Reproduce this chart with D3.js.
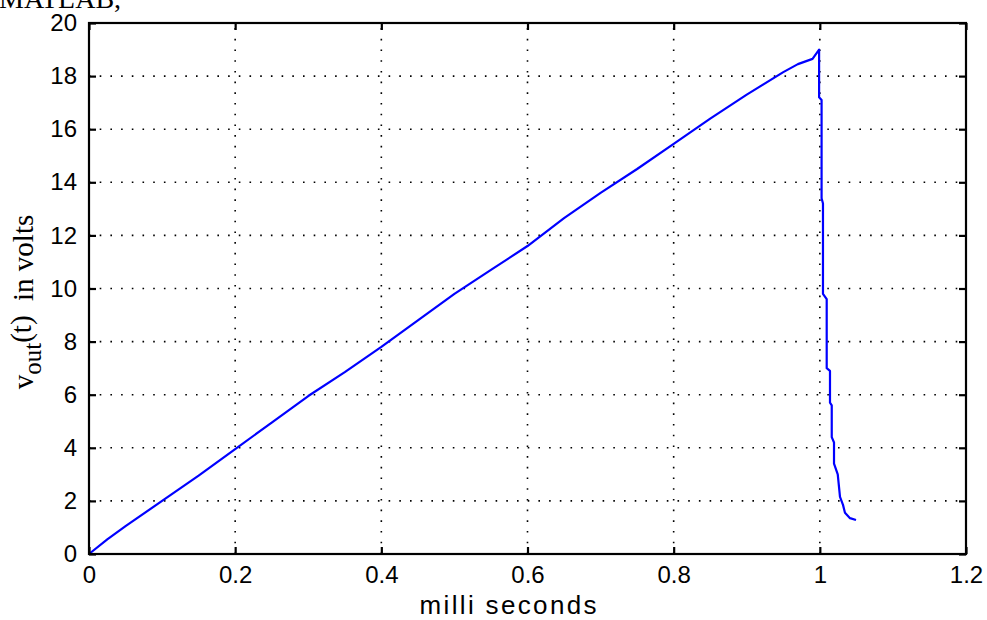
<!DOCTYPE html>
<html>
<head>
<meta charset="utf-8">
<script src="https://cdn.jsdelivr.net/npm/d3@7"></script>
<style>
  body { margin: 0; background: #fff; }
  svg { display: block; }
  .tick text { font-family: "Liberation Sans Narrow", "Liberation Sans", Arial, sans-serif; }
</style>
</head>
<body>
<div id="chart"></div>
<script>
// time in ms, output voltage in volts
var timeMs = [0, 0.025, 0.05, 0.1, 0.15, 0.2, 0.25, 0.3, 0.35, 0.4, 0.45, 0.5, 0.55, 0.6, 0.65, 0.7, 0.75, 0.8, 0.85, 0.9, 0.95, 0.97, 0.99, 0.999,
              0.999, 1.0024, 1.0024, 1.0043, 1.0043, 1.0094, 1.0094, 1.0139, 1.0139, 1.0163, 1.0163, 1.0194, 1.0194, 1.0245, 1.0276, 1.0317, 1.0344, 1.0413, 1.0495];
var vOut   = [0, 0.55, 1.05, 2.0, 2.95, 3.95, 4.95, 5.95, 6.85, 7.8, 8.8, 9.8, 10.7, 11.6, 12.65, 13.6, 14.5, 15.45, 16.4, 17.3, 18.15, 18.45, 18.65, 19.0,
              17.2, 17.1, 13.4, 13.2, 9.8, 9.6, 7.0, 6.9, 5.7, 5.6, 4.4, 4.2, 3.4, 3.0, 2.15, 1.85, 1.55, 1.35, 1.28];
var xTicks = [0, 0.2, 0.4, 0.6, 0.8, 1, 1.2];
var yTicks = [0, 2, 4, 6, 8, 10, 12, 14, 16, 18, 20];

var width = 987, height = 620;
var padL = 89, padR = 966, padT = 23, padB = 554;

var svg = d3.select("#chart").append("svg")
    .attr("width", width)
    .attr("height", height);

var x = d3.scaleLinear().domain([0, 1.2]).range([padL, padR]);
var y = d3.scaleLinear().domain([0, 20]).range([padB, padT]);

// text cut off at the top of the picture
svg.append("text")
    .attr("x", -1)
    .attr("y", 8)
    .attr("font-family", "Liberation Serif, Times New Roman, serif")
    .attr("font-size", 28)
    .attr("fill", "#000")
    .text("MATLAB,");

// dotted grid
var grid = svg.append("g").attr("class", "grid");
grid.selectAll("line.gx")
    .data(xTicks)
  .enter().append("line")
    .attr("class", "gx")
    .attr("x1", function(d) { return x(d); })
    .attr("x2", function(d) { return x(d); })
    .attr("y1", padB)
    .attr("y2", padT);
grid.selectAll("line.gy")
    .data(yTicks)
  .enter().append("line")
    .attr("class", "gy")
    .attr("x1", padL)
    .attr("x2", padR)
    .attr("y1", function(d) { return y(d); })
    .attr("y2", function(d) { return y(d); });
grid.selectAll("line")
    .attr("stroke", "#000")
    .attr("stroke-width", 1.6)
    .attr("stroke-dasharray", "1.6,9.1");

// curve
var line = d3.line()
    .x(function(d, i) { return x(timeMs[i]); })
    .y(function(d) { return y(d); });

svg.append("path")
    .datum(vOut)
    .attr("d", line)
    .attr("fill", "none")
    .attr("stroke", "#0000ff")
    .attr("stroke-width", 2.2)
    .attr("stroke-linejoin", "round");

// axes, ticks pointing inward on all four sides
function fmt(d) { return d3.format("")(+d.toFixed(1)); }

var xAxis = svg.append("g")
    .attr("transform", "translate(0," + padB + ")")
    .call(d3.axisBottom(x).tickValues(xTicks).tickSizeInner(-7).tickSizeOuter(0).tickPadding(10).tickFormat(fmt));
svg.append("g")
    .attr("transform", "translate(0," + padT + ")")
    .call(d3.axisTop(x).tickValues(xTicks).tickSizeInner(-7).tickSizeOuter(0).tickFormat(""));
var yAxis = svg.append("g")
    .attr("transform", "translate(" + padL + ",0)")
    .call(d3.axisLeft(y).tickValues(yTicks).tickSizeInner(-7).tickSizeOuter(0).tickPadding(12).tickFormat(fmt));
svg.append("g")
    .attr("transform", "translate(" + padR + ",0)")
    .call(d3.axisRight(y).tickValues(yTicks).tickSizeInner(-7).tickSizeOuter(0).tickFormat(""));

svg.selectAll(".domain").remove();
svg.selectAll(".tick line").attr("stroke", "#000").attr("stroke-width", 2.2);
svg.selectAll(".tick text").attr("font-size", 24).attr("fill", "#000");
xAxis.selectAll(".tick text").attr("dy", "0.8em");

// box
svg.append("rect")
    .attr("x", padL)
    .attr("y", padT)
    .attr("width", padR - padL)
    .attr("height", padB - padT)
    .attr("fill", "none")
    .attr("stroke", "#000")
    .attr("stroke-width", 2.2);

// axis titles
svg.append("text")
    .attr("x", 508)
    .attr("y", 614)
    .attr("text-anchor", "middle")
    .attr("font-family", "Liberation Sans Narrow, Liberation Sans, Arial, sans-serif")
    .attr("font-size", 26)
    .attr("textLength", 177)
    .attr("fill", "#000")
    .text("milli seconds");

var yTitle = svg.append("text")
    .attr("transform", "translate(33,302) rotate(-90)")
    .attr("text-anchor", "middle")
    .attr("font-family", "Liberation Serif, Times New Roman, serif")
    .attr("font-size", 29)
    .attr("fill", "#000");
yTitle.append("tspan").text("v");
yTitle.append("tspan").attr("dy", 8).attr("font-size", 25).text("out");
yTitle.append("tspan").attr("dy", -10).text("(t)");
yTitle.append("tspan").attr("dy", 2).text("\u00a0\u00a0in volts");
</script>
</body>
</html>
